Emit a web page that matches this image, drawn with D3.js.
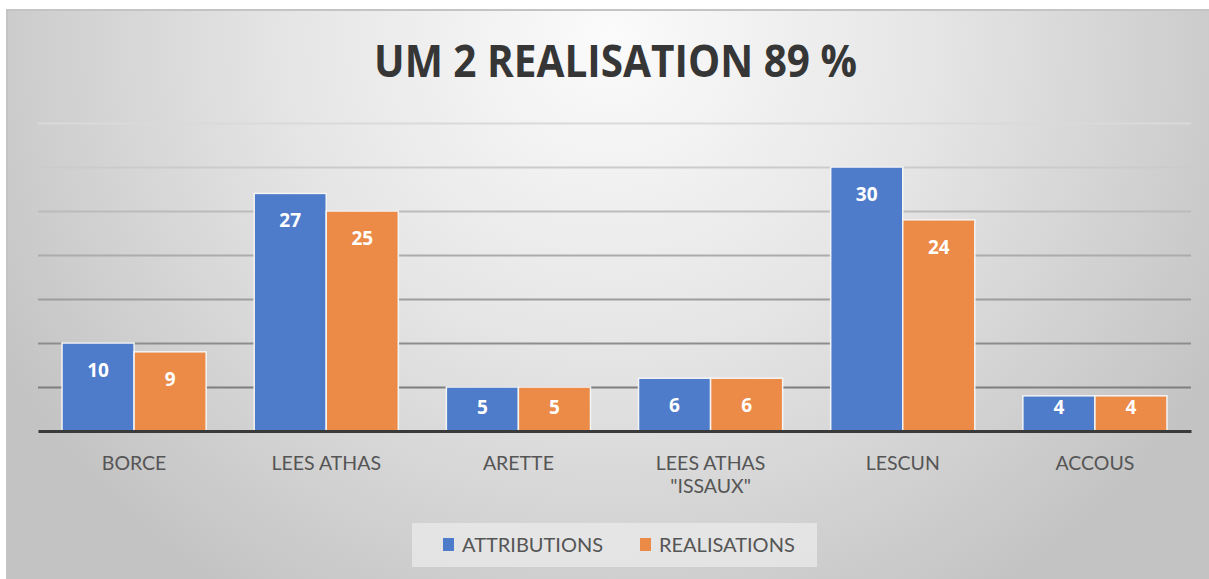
<!DOCTYPE html>
<html>
<head>
<meta charset="utf-8">
<script src="https://cdn.jsdelivr.net/npm/d3@7"></script>
<style>
  html, body { margin: 0; padding: 0; background: #fff; }
  svg { display: block; }
</style>
</head>
<body>
<svg id="chart" width="1209" height="579"></svg>
<script>
// values
const title = "UM 2 REALISATION 89 %";
const categories = [["BORCE"], ["LEES ATHAS"], ["ARETTE"], ["LEES ATHAS", "\"ISSAUX\""], ["LESCUN"], ["ACCOUS"]];
const seriesNames = ["ATTRIBUTIONS", "REALISATIONS"];
const attributions = [10, 27, 5, 6, 30, 4];
const realisations = [9, 25, 5, 6, 24, 4];
const yTicks = [0, 5, 10, 15, 20, 25, 30, 35];
const colors = ["#4f7cca", "#ec8a47"];

const svg = d3.select("#chart");
const defs = svg.append("defs");

// background gradient of the chart frame
const bg = defs.append("radialGradient")
  .attr("id", "bg")
  .attr("gradientUnits", "userSpaceOnUse")
  .attr("cx", 610).attr("cy", 40).attr("r", 700)
  .attr("gradientTransform", "translate(610,40) scale(1,0.95) translate(-610,-40)");
bg.append("stop").attr("offset", 0).attr("stop-color", "#fbfbfb");
bg.append("stop").attr("offset", 0.45).attr("stop-color", "#e6e6e6");
bg.append("stop").attr("offset", 1).attr("stop-color", "#c3c3c3");

svg.append("rect")
  .attr("x", 7).attr("y", 10).attr("width", 1209).attr("height", 580)
  .attr("fill", "url(#bg)")
  .attr("stroke", "#c4c4c4").attr("stroke-width", 2);

const plotLeft = 38, plotRight = 1191, plotTop = 123, base = 431;

const x0 = d3.scaleBand()
  .domain(d3.range(categories.length))
  .range([plotLeft, plotRight]);

const groupW = x0.bandwidth() * 0.75;
const x1 = d3.scaleBand()
  .domain(d3.range(seriesNames.length))
  .range([0, groupW]);

const y = d3.scaleLinear()
  .domain([0, 35])
  .range([base, plotTop]);

// gridlines get darker towards the bottom
const gridShade = d3.scaleLinear()
  .domain([plotTop, y(5)])
  .range(["#dadada", "#7e7e7e"]);

const yAxis = d3.axisLeft(y)
  .tickValues(yTicks.slice(1))
  .tickSize(-(plotRight - plotLeft))
  .tickFormat("");
const ga = svg.append("g")
  .attr("transform", `translate(${plotLeft},0)`)
  .call(yAxis);
ga.select(".domain").remove();
ga.selectAll(".tick line")
  .attr("stroke", d => gridShade(y(d)))
  .attr("stroke-width", 2);

// bars
const series = [attributions, realisations];
series.forEach((vals, s) => {
  const g = svg.append("g");
  g.selectAll("rect")
    .data(vals)
    .join("rect")
    .attr("x", (d, i) => x0(i) + (x0.bandwidth() - groupW) / 2 + x1(s))
    .attr("y", d => y(d))
    .attr("width", x1.bandwidth())
    .attr("height", d => base - y(d))
    .attr("fill", colors[s])
    .attr("stroke", "#f4f4f4")
    .attr("stroke-width", 1.5);

  g.selectAll("text")
    .data(vals)
    .join("text")
    .attr("x", (d, i) => x0(i) + (x0.bandwidth() - groupW) / 2 + x1(s) + x1.bandwidth() / 2)
    .attr("y", d => Math.min(y(d) + 27, base - 24))
    .attr("dy", "0.36em")
    .attr("text-anchor", "middle")
    .attr("font-family", "'Open Sans', sans-serif")
    .attr("font-weight", "bold")
    .attr("font-size", 19)
    .attr("fill", "#ffffff")
    .text(d => d);
});

// x axis line
const xAxis = d3.axisBottom(x0).tickSize(0).tickFormat("");
const xa = svg.append("g")
  .attr("transform", `translate(0,${base})`)
  .call(xAxis);
xa.select(".domain")
  .attr("stroke", "#3a3a3a")
  .attr("stroke-width", 3);

// category labels
const cl = svg.append("g")
  .attr("font-family", "Lato, 'Open Sans', sans-serif")
  .attr("font-size", 19.5)
  .attr("fill", "#555555")
  .attr("text-anchor", "middle");
categories.forEach((lines, i) => {
  const t = cl.append("text")
    .attr("x", x0(i) + x0.bandwidth() / 2)
    .attr("y", 470);
  lines.forEach((ln, k) => {
    t.append("tspan")
      .attr("x", x0(i) + x0.bandwidth() / 2)
      .attr("dy", k === 0 ? 0 : 23)
      .text(ln);
  });
});

// title
svg.append("text")
  .attr("x", 615.5)
  .attr("y", 77)
  .attr("text-anchor", "middle")
  .attr("font-family", "'Open Sans', sans-serif")
  .attr("font-weight", "bold")
  .attr("font-size", 44)
  .attr("fill", "#363636")
  .attr("textLength", 483)
  .attr("lengthAdjust", "spacingAndGlyphs")
  .text(title);

// legend
const lg = svg.append("g");
lg.append("rect")
  .attr("x", 412).attr("y", 523).attr("width", 405).attr("height", 44)
  .attr("fill", "#ececec").attr("opacity", 0.7);
const legendX = [443, 640];
seriesNames.forEach((name, s) => {
  lg.append("rect")
    .attr("x", legendX[s]).attr("y", 538)
    .attr("width", 11).attr("height", 13)
    .attr("fill", colors[s]);
  lg.append("text")
    .attr("x", legendX[s] + 19)
    .attr("y", 552)
    .attr("font-family", "Lato, 'Open Sans', sans-serif")
    .attr("font-size", 20)
    .attr("fill", "#555555")
    .text(name);
});
</script>
</body>
</html>
